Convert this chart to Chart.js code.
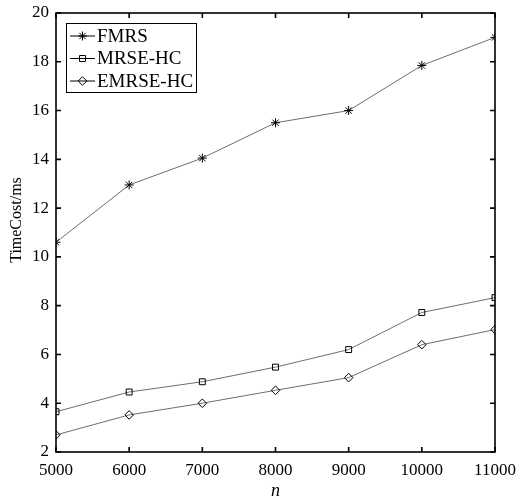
<!DOCTYPE html>
<html><head><meta charset="utf-8">
<script src="https://cdn.jsdelivr.net/npm/chart.js@4"></script>
<style>html,body{margin:0;padding:0;background:#fff}#w{width:519px;height:500px}</style>
</head><body><div id="w"><canvas id="c" width="519" height="500"></canvas></div>
<script>
const nValues = [5000, 6000, 7000, 8000, 9000, 10000, 11000];
const fmrs = [10.6, 12.95, 14.05, 15.5, 16.0, 17.85, 19.0];
const mrseHC = [3.65, 4.46, 4.88, 5.48, 6.2, 7.72, 8.33];
const emrseHC = [2.7, 3.52, 4.0, 4.53, 5.05, 6.4, 7.02];
const seriesNames = ['FMRS', 'MRSE-HC', 'EMRSE-HC'];
const xTicks = [5000, 6000, 7000, 8000, 9000, 10000, 11000];
const yTicks = [2, 4, 6, 8, 10, 12, 14, 16, 18, 20];
const yTitle = 'TimeCost/ms';
const xTitle = 'n';

const FONT = "'Liberation Serif', 'Times New Roman', serif";
const pts = arr => arr.map((v, i) => ({x: nValues[i], y: v}));
const styles = [
  {pointStyle: 'star', pointRadius: 4.5},
  {pointStyle: 'rect', pointRadius: 4.2},
  {pointStyle: 'rectRot', pointRadius: 4.3}
];
const datasets = [fmrs, mrseHC, emrseHC].map((arr, i) => ({
  label: seriesNames[i],
  data: pts(arr),
  borderColor: '#6e6e6e',
  borderWidth: 1,
  pointBorderColor: '#000',
  pointBackgroundColor: 'rgba(0,0,0,0)',
  pointBorderWidth: 1,
  pointStyle: styles[i].pointStyle,
  pointRadius: styles[i].pointRadius,
  tension: 0
}));

const boxPlugin = {
  id: 'box',
  afterDraw(chart) {
    const {ctx, chartArea: a, scales} = chart;
    ctx.save();
    ctx.strokeStyle = '#000';
    ctx.lineWidth = 1.6;
    const tl = 5;
    ctx.beginPath();
    xTicks.forEach(v => {
      const px = scales.x.getPixelForValue(v);
      ctx.moveTo(px, a.bottom); ctx.lineTo(px, a.bottom - tl);
      ctx.moveTo(px, a.top); ctx.lineTo(px, a.top + tl);
    });
    yTicks.forEach(v => {
      const py = scales.y.getPixelForValue(v);
      ctx.moveTo(a.left, py); ctx.lineTo(a.left + tl, py);
      ctx.moveTo(a.right, py); ctx.lineTo(a.right - tl, py);
    });
    ctx.stroke();
    ctx.strokeRect(a.left, a.top, a.right - a.left, a.bottom - a.top);

    // y-axis title
    ctx.save();
    ctx.translate(17, 220);
    ctx.rotate(-Math.PI / 2);
    ctx.font = '16px ' + FONT;
    ctx.fillStyle = '#000';
    ctx.textAlign = 'center';
    ctx.textBaseline = 'middle';
    ctx.fillText(yTitle, 0, 0);
    ctx.restore();

    // legend
    const lx = a.left + 10, ly = a.top + 10, lw = 130, lh = 69;
    ctx.fillStyle = '#fff';
    ctx.fillRect(lx, ly, lw, lh);
    ctx.lineWidth = 1;
    ctx.strokeStyle = '#000';
    ctx.strokeRect(lx + 0.5, ly + 0.5, lw, lh);
    ctx.font = '19px ' + FONT;
    ctx.textBaseline = 'middle';
    chart.data.datasets.forEach((ds, i) => {
      const y = ly + 13 + i * 22.5;
      ctx.strokeStyle = '#000';
      ctx.lineWidth = 1;
      ctx.beginPath(); ctx.moveTo(lx + 4, y); ctx.lineTo(lx + 29, y); ctx.stroke();
      ctx.fillStyle = 'rgba(0,0,0,0)';
      Chart.helpers.drawPoint(ctx, {pointStyle: ds.pointStyle, radius: ds.pointRadius, borderWidth: 1}, lx + 16.5, y);
      ctx.fillStyle = '#000';
      ctx.fillText(ds.label, lx + 31, y + 1);
    });
    ctx.restore();
  }
};

function draw() {
  new Chart(document.getElementById('c'), {
    type: 'line',
    data: {datasets},
    options: {
      responsive: false,
      animation: false,
      layout: {padding: {top: 13, right: 24, left: 0, bottom: 0}},
      plugins: {legend: {display: false}, tooltip: {enabled: false}},
      scales: {
        x: {
          type: 'linear', min: 5000, max: 11000,
          afterBuildTicks: s => { s.ticks = xTicks.map(v => ({value: v})); },
          afterFit: s => { s.height = 48; s.paddingLeft = 0; s.paddingRight = 0; },
          grid: {display: false, drawTicks: false},
          border: {display: false},
          ticks: {color: '#000', font: {family: FONT, size: 17}, padding: 8, maxRotation: 0, callback: v => String(v)},
          title: {display: true, text: xTitle, color: '#000', font: {family: FONT, size: 18, style: 'italic', lineHeight: 1}, padding: {top: 0, bottom: 0}}
        },
        y: {
          min: 2, max: 20,
          afterBuildTicks: s => { s.ticks = yTicks.map(v => ({value: v})); },
          afterFit: s => { s.width = 56; s.paddingTop = 0; s.paddingBottom = 0; },
          grid: {display: false, drawTicks: false},
          border: {display: false},
          ticks: {color: '#000', font: {family: FONT, size: 17}, padding: 7}
        }
      }
    },
    plugins: [boxPlugin]
  });
}
if (document.fonts && document.fonts.load) {
  Promise.all([
    document.fonts.load("17px 'Liberation Serif'"),
    document.fonts.load("italic 18px 'Liberation Serif'")
  ]).then(draw, draw);
} else { draw(); }
</script></body></html>
